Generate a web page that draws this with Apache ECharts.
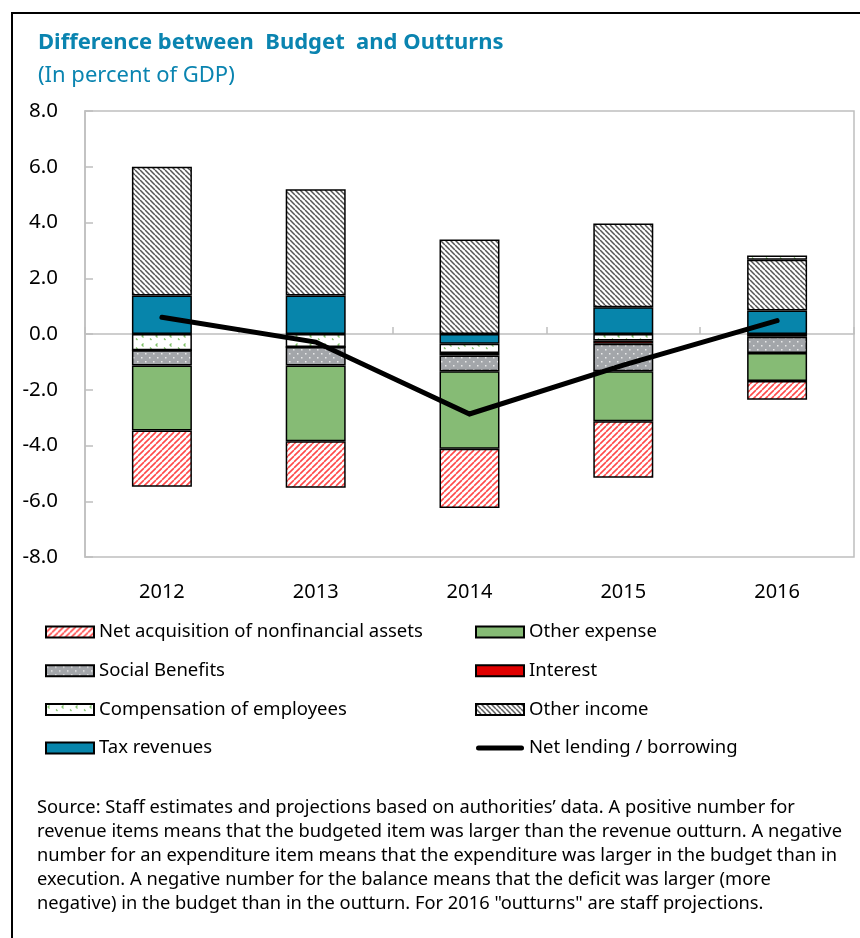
<!DOCTYPE html>
<html>
<head>
<meta charset="utf-8">
<script src="https://cdn.jsdelivr.net/npm/echarts@6/dist/echarts.min.js"></script>
<style>
html,body{margin:0;padding:0;background:#fff;}
#chart{width:860px;height:938px;}
</style>
</head>
<body>
<div id="chart"></div>
<script>
// ---- data ----
var categories = ['2012', '2013', '2014', '2015', '2016'];
var taxRevenues = [1.38, 1.38, -0.35, 0.96, 0.84];
var otherIncome = [4.62, 3.81, 3.39, 3.00, 1.82];
var compensation = [-0.58, -0.47, -0.33, -0.23, 0.16];
var interest = [0, 0, -0.09, -0.12, -0.10];
var socialBenefits = [-0.55, -0.66, -0.57, -0.99, -0.58];
var otherExpense = [-2.33, -2.72, -2.78, -1.79, -1.01];
var netAcquisition = [-2.02, -1.67, -2.12, -2.03, -0.67];
var netLending = [0.60, -0.29, -2.87, -1.12, 0.48];
var yTicks = [-8, -6, -4, -2, 0, 2, 4, 6, 8];

var FONT = 'Noto Sans';

// ---- patterns ----
function stripes(fg, dir, p, lw) {
  var c = document.createElement('canvas');
  c.width = p; c.height = p;
  var g = c.getContext('2d');
  g.fillStyle = '#fff'; g.fillRect(0, 0, p, p);
  g.strokeStyle = fg; g.lineWidth = lw;
  g.beginPath();
  if (dir === '/') {
    for (var k = -1; k <= 1; k++) {
      g.moveTo(k * p, p); g.lineTo(k * p + p, 0);
    }
  } else {
    for (var k2 = -1; k2 <= 1; k2++) {
      g.moveTo(k2 * p, 0); g.lineTo(k2 * p + p, p);
    }
  }
  g.stroke();
  return { image: c, repeat: 'repeat' };
}
function dots() {
  var c = document.createElement('canvas');
  c.width = 8; c.height = 8;
  var g = c.getContext('2d');
  g.fillStyle = '#a3a6aa'; g.fillRect(0, 0, 8, 8);
  g.fillStyle = '#e8e8e8';
  g.fillRect(1, 1, 1.5, 1.5);
  g.fillRect(5, 5, 1.5, 1.5);
  return { image: c, repeat: 'repeat' };
}
function sprinkles() {
  var c = document.createElement('canvas');
  c.width = 14; c.height = 9;
  var g = c.getContext('2d');
  g.fillStyle = '#fff'; g.fillRect(0, 0, 14, 9);
  g.strokeStyle = '#7fc168'; g.lineWidth = 1.3;
  g.beginPath();
  g.moveTo(3.5, 1.5); g.lineTo(2, 3); g.lineTo(3.5, 4.5);
  g.moveTo(10, 5.5); g.lineTo(11.5, 7);
  g.stroke();
  return { image: c, repeat: 'repeat' };
}

var pNetAcq = stripes('#ff4a4a', '/', 6, 1.6);
var pOtherInc = stripes('#555555', '\\', 5, 1.5);
var pSocial = dots();
var pComp = sprinkles();

function bar(name, data, color) {
  return {
    name: name, type: 'bar', stack: 'total', data: data,
    barWidth: '39%',
    itemStyle: { color: color, borderColor: '#000', borderWidth: 1.5 },
    emphasis: { disabled: true }
  };
}

var lineIcon = 'path://M2.5,0 L45.5,0 A2.5,2.5 0 0 1 45.5,5 L2.5,5 A2.5,2.5 0 0 1 2.5,0 Z';

var chart = echarts.init(document.getElementById('chart'), null, { renderer: 'canvas' });
var legendText = { fontFamily: FONT, fontSize: 18.5, color: '#000', lineHeight: 20 };
var option = {
  animation: false,
  backgroundColor: '#fff',
  title: [
    { text: 'Difference between  Budget  and Outturns', left: 33, top: 27,
      textStyle: { fontFamily: FONT, fontSize: 22, fontWeight: 'bold', color: '#0a84b0' } },
    { text: '(In percent of GDP)', left: 33, top: 60,
      textStyle: { fontFamily: FONT, fontSize: 22, fontWeight: 'normal', color: '#0a84b0' } }
  ],
  grid: { left: 85, right: 6, top: 111, bottom: 381, show: true, borderColor: '#bfbfbf', borderWidth: 1.5 },
  legend: [
    { orient: 'vertical', left: 45, top: 622, padding: 0, itemWidth: 48, itemHeight: 11, itemGap: 18.7,
      icon: 'rect', textStyle: legendText, selectedMode: false,
      data: ['Net acquisition of nonfinancial assets', 'Social Benefits', 'Compensation of employees', 'Tax revenues'] },
    { orient: 'vertical', left: 475, top: 622, padding: 0, itemWidth: 48, itemHeight: 11, itemGap: 18.7,
      icon: 'rect', textStyle: legendText, selectedMode: false,
      data: ['Other expense', 'Interest', 'Other income',
        { name: 'Net lending / borrowing', icon: lineIcon, itemStyle: { color: '#000', borderWidth: 0 } }] }
  ],
  xAxis: [
    { type: 'category', data: categories, position: 'bottom',
      axisLine: { show: false, onZero: false }, axisTick: { show: false },
      axisLabel: { fontFamily: FONT, fontSize: 20, color: '#000', margin: 25 } },
    { type: 'category', data: categories, position: 'bottom',
      axisLine: { show: true, onZero: true, lineStyle: { color: '#bfbfbf', width: 1.5 } },
      axisTick: { show: true, inside: true, length: 7, lineStyle: { color: '#bfbfbf', width: 1.5 } },
      axisLabel: { show: false } }
  ],
  yAxis: {
    type: 'value', min: -8, max: 8, interval: 2,
    axisLine: { show: true, lineStyle: { color: '#bfbfbf', width: 1.5 } },
    axisTick: { show: true, inside: true, length: 8, lineStyle: { color: '#bfbfbf', width: 1.5 } },
    splitLine: { show: false },
    axisLabel: { fontFamily: FONT, fontSize: 20.5, color: '#000', margin: 27,
      formatter: function (v) { return yTicks.indexOf(v) >= 0 ? v.toFixed(1) : ''; } }
  },
  series: [
    bar('Tax revenues', taxRevenues, '#0785ab'),
    bar('Other income', otherIncome, pOtherInc),
    bar('Compensation of employees', compensation, pComp),
    bar('Interest', interest, '#e00000'),
    bar('Social Benefits', socialBenefits, pSocial),
    bar('Other expense', otherExpense, '#86bb75'),
    bar('Net acquisition of nonfinancial assets', netAcquisition, pNetAcq),
    { name: 'Net lending / borrowing', type: 'line', data: netLending,
      symbol: 'none', z: 10,
      lineStyle: { color: '#000', width: 5, cap: 'round', join: 'miter' },
      itemStyle: { color: '#000' },
      emphasis: { disabled: true } }
  ],
  graphic: [
    { type: 'rect', shape: { x: 12, y: 13, width: 900, height: 1000 },
      style: { fill: 'none', stroke: '#000', lineWidth: 2 }, silent: true },
    { type: 'text', left: 37, top: 796, silent: true,
      style: {
        text: 'Source: Staff estimates and projections based on authorities\u2019 data. A positive number for\n' +
              'revenue items means that the budgeted item was larger than the revenue outturn. A negative\n' +
              'number for an expenditure item means that the expenditure was larger in the budget than in\n' +
              'execution. A negative number for the balance means that the deficit was larger (more\n' +
              'negative) in the budget than in the outturn. For 2016 "outturns" are staff projections.',
        font: '18.3px "' + FONT + '"', fill: '#000', lineHeight: 24
      } }
  ]
};
chart.setOption(option);
</script>
</body>
</html>
